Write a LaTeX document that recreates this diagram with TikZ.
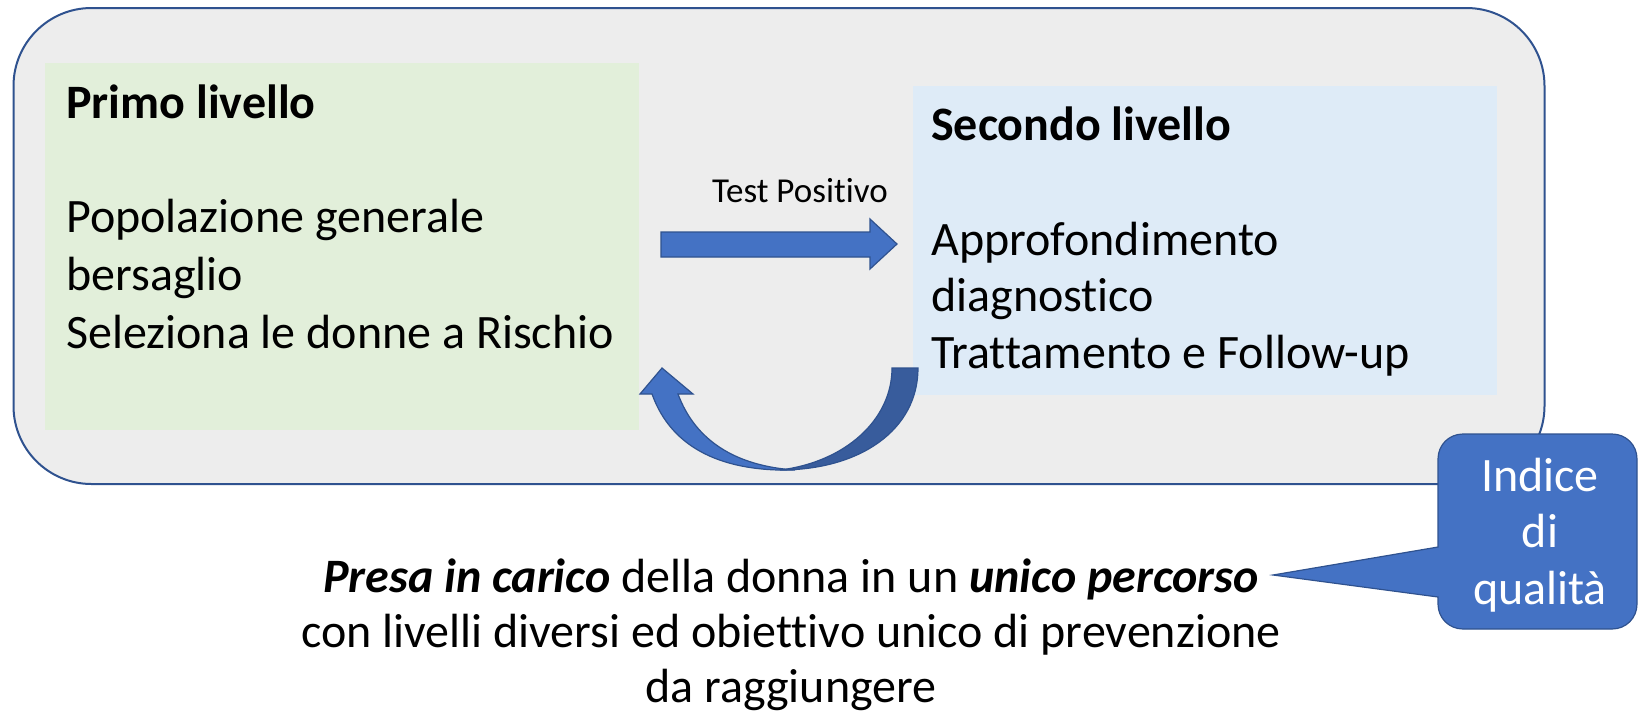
\documentclass[tikz,border=0pt]{standalone}
\usepackage{fontspec}
\setmainfont{Carlito}[Ligatures=NoCommon]
\usetikzlibrary{positioning}

\definecolor{framefill}{HTML}{EDEDED}
\definecolor{frameline}{HTML}{2F528F}
\definecolor{greenfill}{HTML}{E2EFDA}
\definecolor{bluefill}{HTML}{DEEBF7}
\definecolor{arrowblue}{HTML}{4472C4}
\definecolor{arrowdark}{HTML}{385C9C}

\begin{document}
\begin{tikzpicture}[x=1pt, y=-1pt,
    frame/.style={draw=frameline, fill=framefill, line width=2pt, rounded corners=78, inner sep=0, anchor=north west},
    level/.style={inner sep=0, anchor=north west},
    txt/.style={inner sep=0, font=\fontsize{48}{58}\selectfont, align=left, anchor=base west},
    arr/.style={fill=arrowblue, draw=frameline, line width=1.2pt, line join=miter},
    shade/.style={fill=arrowdark, draw=frameline, line width=1.2pt}]
  \useasboundingbox (0,0) rectangle (1639,716);

  % cornice e livelli
  \node[frame, minimum width=1531, minimum height=476] (frame) at (12.5,7) {};
  \node[level, fill=greenfill, minimum width=594, minimum height=367] (primo) at (45,63) {};
  \node[level, fill=bluefill, minimum width=584, minimum height=309] (secondo) at (913,86) {};

  % (base = ultima riga)
  \node[txt] (primoT) at (66,118) {\textbf{Primo livello}};
  \node[txt] (primoD) at (66,348) {Popolazione generale\\ bersaglio\\ Seleziona le donne a Rischio};
  \node[txt] (secondoT) at (931,140) {\textbf{Secondo livello}};
  \node[txt, font=\fontsize{48}{56.5}\selectfont] (secondoD) at (931,368) {Approfondimento\\ diagnostico\\ Trattamento e Follow-up};

  % freccia test positivo
  \node[inner sep=0, font=\fontsize{35}{40}\selectfont, anchor=base] (test) at (800,202) {Test Positivo};
  \filldraw[arr] (661,232) -- (870,232) -- (870,219) -- (897,244) -- (870,269) -- (870,257) -- (661,257) -- cycle;

  % freccia di ritorno
  \filldraw[shade] (918,368) .. controls (918,430) and (860,470) .. (780,470)
      .. controls (845,462) and (892,420) .. (892,368) -- cycle;
  \filldraw[arr] (652,394) .. controls (672,450) and (725,472) .. (795,470)
      .. controls (735,466) and (695,440) .. (678,394) -- (693,394) -- (662,368) -- (640,394) -- cycle;

  % nota in basso
  \node[inner sep=0, font=\fontsize{48}{55}\selectfont, align=center, anchor=base] (nota) at (791,702)
    {\textbf{\textit{Presa in carico}} della donna in un \textbf{\textit{unico percorso}}\\
     con livelli diversi ed obiettivo unico di prevenzione\\ da raggiungere};

  % fumetto
  \coordinate (tip) at (1273,575);
  \filldraw[arr] (tip) -- (1438,547) -- (1438,459) .. controls (1438,445) and (1449,434) .. (1463,434)
      -- (1612,434) .. controls (1626,434) and (1637,445) .. (1637,459)
      -- (1637,604) .. controls (1637,618) and (1626,629) .. (1612,629)
      -- (1463,629) .. controls (1449,629) and (1438,618) .. (1438,604) -- (1438,597) -- cycle;
  \node[inner sep=0, font=\fontsize{48}{56.5}\selectfont, align=center, anchor=base, text=white] (indice) at (1540,604) {Indice\\ di\\ qualità};
\end{tikzpicture}
\end{document}
